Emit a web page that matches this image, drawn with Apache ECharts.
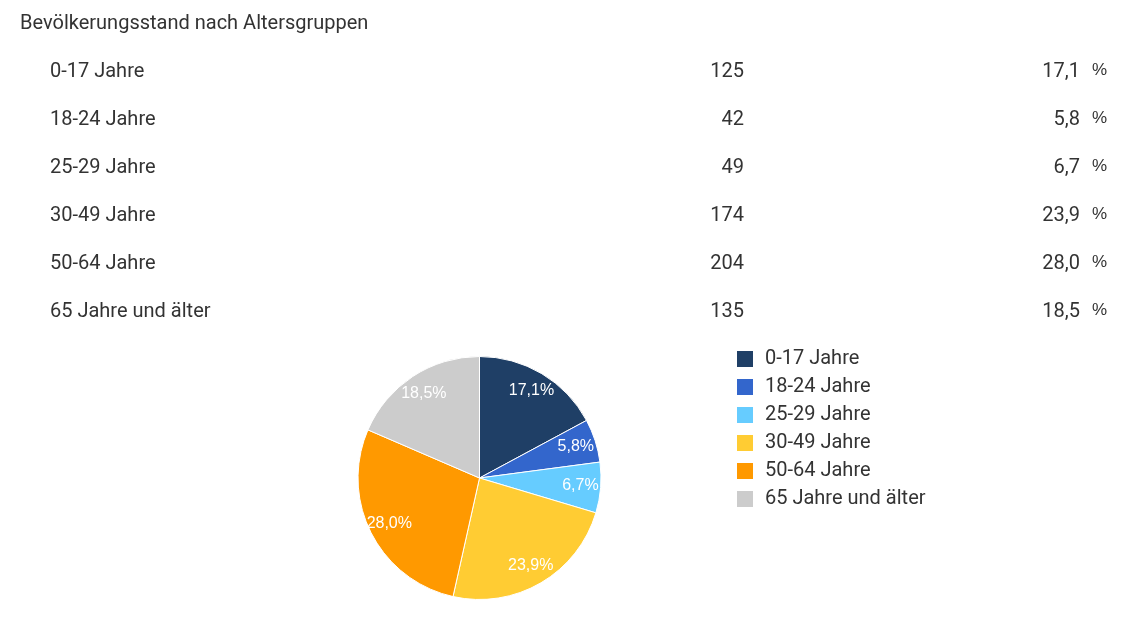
<!DOCTYPE html>
<html>
<head>
<meta charset="utf-8">
<script src="https://cdn.jsdelivr.net/npm/echarts@6/dist/echarts.min.js"></script>
<style>
  html, body { margin:0; padding:0; background:#fff; }
  #page { position:relative; width:1133px; height:618px; overflow:hidden; font-family:Roboto, sans-serif; color:#333; }
  #chart { position:absolute; left:0; top:0; width:1133px; height:618px; }
  .title { position:absolute; left:20px; top:0; line-height:44px; font-size:20px; }
  .row { position:absolute; left:0; width:1133px; height:48px; line-height:48px; font-size:20px; }
  .row .lbl { position:absolute; left:50px; }
  .row .val { position:absolute; right:389px; text-align:right; }
  .row .pct { position:absolute; right:53px; text-align:right; }
  .row .unit { position:absolute; left:1092px; font-family:'Liberation Sans', Arial, sans-serif; font-size:17px; }
</style>
</head>
<body>
<div id="page">
  <div id="chart"></div>
  <div class="title">Bevölkerungsstand nach Altersgruppen</div>
  <div id="table"></div>
</div>
<script>
var categories = ['0-17 Jahre', '18-24 Jahre', '25-29 Jahre', '30-49 Jahre', '50-64 Jahre', '65 Jahre und älter'];
var counts = [125, 42, 49, 174, 204, 135];
var percents = [17.1, 5.8, 6.7, 23.9, 28.0, 18.5];
var colors = ['#1f3f66', '#3366cc', '#66ccff', '#ffcc33', '#ff9900', '#cccccc'];

function fmt(p){
  return p.toFixed(1).replace('.', ',');
}

// table above the pie
var html = '';
for (var i = 0; i < categories.length; i++) {
  html += '<div class="row" style="top:' + (46 + i * 48) + 'px">' +
    '<span class="lbl">' + categories[i] + '</span>' +
    '<span class="val">' + counts[i] + '</span>' +
    '<span class="pct">' + fmt(percents[i]) + '</span>' +
    '<span class="unit">%</span></div>';
}
document.getElementById('table').innerHTML = html;

var pieData = [];
for (var j = 0; j < categories.length; j++) {
  pieData.push({ name: categories[j], value: counts[j] });
}

var myChart = echarts.init(document.getElementById('chart'));
var option = {
  animation: false,
  color: colors,
  legend: {
    orient: 'vertical',
    left: 735,
    top: 349,
    padding: 0,
    itemWidth: 18,
    itemHeight: 18,
    itemGap: 8,
    icon: 'rect',
    data: categories,
    textStyle: {
      fontFamily: 'Roboto',
      fontSize: 20,
      lineHeight: 20,
      color: '#333',
      padding: [0, 0, 0, 6]
    }
  },
  series: [
    {
      type: 'pie',
      center: [479.5, 478],
      radius: [0, 121.5],
      silent: true,
      label: { show: false },
      labelLine: { show: false },
      itemStyle: { borderColor: '#fff', borderWidth: 1 },
      data: pieData
    },
    {
      // transparent ring only used to put the labels at ~0.8 r
      type: 'pie',
      center: [479.5, 478],
      radius: [75, 121.5],
      silent: true,
      itemStyle: { color: 'rgba(0,0,0,0)', borderWidth: 0 },
      label: {
        show: true,
        position: 'inside',
        color: '#fff',
        fontFamily: 'Liberation Sans, Arial, sans-serif',
        fontSize: 16,
        formatter: function(e){
          return fmt(percents[e.dataIndex]) + '%';
        }
      },
      labelLine: { show: false },
      data: pieData
    }
  ]
};
myChart.setOption(option);
</script>
</body>
</html>
